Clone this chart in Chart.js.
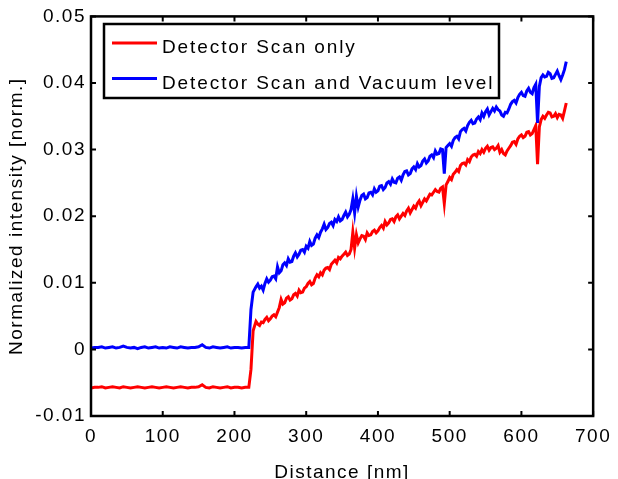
<!DOCTYPE html>
<html>
<head>
<meta charset="utf-8">
<script src="https://cdn.jsdelivr.net/npm/chart.js@4.4.0/dist/chart.umd.min.js"></script>
<style>
html, body { margin: 0; padding: 0; background: #fff; }
</style>
</head>
<body>
<canvas id="myChart" width="618" height="479"></canvas>
<script>
// distance along the scan [nm]
const distances = [
    0, 5, 10, 15, 20, 25, 30, 35, 40, 45,
    50, 55, 60, 65, 70, 75, 80, 85, 90, 95,
    100, 105, 110, 115, 120, 125, 130, 135, 140, 145,
    150, 155, 160, 165, 170, 175, 180, 185, 190, 195,
    200, 205, 210, 215, 220,
    223, 226,
    230, 232.5, 235, 237.5, 240, 242.5, 245, 247.5,
    250, 252.5, 255, 257.5, 260, 262.5, 265, 267.5,
    270, 272.5, 275, 277.5, 280, 282.5, 285, 287.5,
    290, 292.5, 295, 297.5, 300, 302.5, 305, 307.5,
    310, 312.5, 315, 317.5, 320, 322.5, 325, 327.5,
    330, 332.5, 335, 337.5, 340, 342.5, 345, 347.5,
    350, 352.5, 355, 357.5, 360, 362.5, 365, 367.5,
    370, 372.5, 375, 377.5, 380, 382.5, 385, 387.5,
    390, 392.5, 395, 397.5, 400, 402.5, 405, 407.5,
    410, 412.5, 415, 417.5, 420, 422.5, 425, 427.5,
    430, 432.5, 435, 437.5, 440, 442.5, 445, 447.5,
    450, 452.5, 455, 457.5, 460, 462.5, 465, 467.5,
    470, 472.5, 475, 477.5, 480, 482.5, 485, 487.5,
    490, 492.5, 495, 497.5, 500, 502.5, 505, 507.5,
    510, 512.5, 515, 517.5, 520, 522.5, 525, 527.5,
    530, 532.5, 535, 537.5, 540, 542.5, 545, 547.5,
    550, 552.5, 555, 557.5, 560, 562.5, 565, 567.5,
    570, 572.5, 575, 577.5, 580, 582.5, 585, 587.5,
    590, 592.5, 595, 597.5, 600, 602.5, 605, 607.5,
    610, 612.5, 615, 617.5, 620, 622.5, 625, 627.5,
    630, 632.5, 635, 637.5, 640, 642.5, 645, 647.5,
    650, 652.5, 655, 657.5, 660, 662.5
]

const scanOnly = [
    -0.0058, -0.0057, -0.0057, -0.0056, -0.0058, -0.0057, -0.0056, -0.0057, -0.0058, -0.0056,
    -0.0057, -0.0058, -0.0057, -0.0056, -0.0057, -0.0058, -0.0057, -0.0056, -0.0057, -0.0058,
    -0.0057, -0.0056, -0.0057, -0.0058, -0.0057, -0.0056, -0.0057, -0.0058, -0.0057, -0.0057,
    -0.0056, -0.0053, -0.0057, -0.0058, -0.0056, -0.0057, -0.0058, -0.0057, -0.0056, -0.0058,
    -0.0057, -0.0057, -0.0058, -0.0057, -0.0057,
    -0.0030, 0.0028,
    0.0042, 0.0038, 0.0036, 0.0041, 0.0040, 0.0045, 0.0048, 0.0043,
    0.0046, 0.0050, 0.0052, 0.0049, 0.0056, 0.0063, 0.0075, 0.0068,
    0.0070, 0.0077, 0.0079, 0.0074, 0.0076, 0.0082, 0.0084, 0.0080,
    0.0089, 0.0085, 0.0086, 0.0092, 0.0094, 0.0099, 0.0102, 0.0097,
    0.0099, 0.0107, 0.0112, 0.0109, 0.0115, 0.0112, 0.0119, 0.0122,
    0.0123, 0.0120, 0.0128, 0.0131, 0.0134, 0.0130, 0.0138, 0.0136,
    0.0140, 0.0143, 0.0146, 0.0141, 0.0143, 0.0150, 0.0176, 0.0152,
    0.0172, 0.0160, 0.0166, 0.0171, 0.0170, 0.0165, 0.0175, 0.0171,
    0.0172, 0.0177, 0.0179, 0.0175, 0.0178, 0.0183, 0.0186, 0.0182,
    0.0192, 0.0187, 0.0190, 0.0195, 0.0196, 0.0192, 0.0199, 0.0202,
    0.0196, 0.0200, 0.0204, 0.0201, 0.0208, 0.0212, 0.0205, 0.0210,
    0.0215, 0.0212, 0.0219, 0.0223, 0.0216, 0.0221, 0.0226, 0.0223,
    0.0228, 0.0233, 0.0232, 0.0236, 0.0240, 0.0237, 0.0236, 0.0242,
    0.0244, 0.0219, 0.0247, 0.0252, 0.0258, 0.0255, 0.0263, 0.0266,
    0.0270, 0.0267, 0.0276, 0.0279, 0.0280, 0.0277, 0.0285, 0.0282,
    0.0289, 0.0292, 0.0293, 0.0290, 0.0297, 0.0294, 0.0300, 0.0296,
    0.0302, 0.0305, 0.0299, 0.0303, 0.0304, 0.0300, 0.0302, 0.0306,
    0.0296, 0.0300, 0.0294, 0.0292, 0.0298, 0.0302, 0.0306, 0.0311,
    0.0312, 0.0308, 0.0316, 0.0320, 0.0322, 0.0318, 0.0320, 0.0326,
    0.0327, 0.0322, 0.0324, 0.0330, 0.0336, 0.0278, 0.0334, 0.0345,
    0.0350, 0.0347, 0.0352, 0.0356, 0.0355, 0.0349, 0.0350, 0.0354,
    0.0348, 0.0353, 0.0352, 0.0347, 0.0358, 0.0370
]

const scanAndVacuum = [
    0.0002, 0.0003, 0.0003, 0.0004, 0.0002, 0.0003, 0.0004, 0.0002, 0.0003, 0.0005,
    0.0003, 0.0002, 0.0003, 0.0001, 0.0003, 0.0004, 0.0002, 0.0003, 0.0004, 0.0002,
    0.0003, 0.0002, 0.0004, 0.0003, 0.0002, 0.0004, 0.0003, 0.0002, 0.0003, 0.0003,
    0.0004, 0.0007, 0.0003, 0.0002, 0.0004, 0.0003, 0.0002, 0.0003, 0.0004, 0.0002,
    0.0003, 0.0003, 0.0002, 0.0003, 0.0003,
    0.0060, 0.0086,
    0.0094, 0.0098, 0.0092, 0.0095, 0.0089, 0.0099, 0.0106, 0.0101,
    0.0104, 0.0109, 0.0110, 0.0106, 0.0124, 0.0115, 0.0118, 0.0127,
    0.0130, 0.0126, 0.0136, 0.0131, 0.0132, 0.0140, 0.0145, 0.0139,
    0.0143, 0.0149, 0.0150, 0.0146, 0.0155, 0.0152, 0.0162, 0.0156,
    0.0158, 0.0167, 0.0172, 0.0168, 0.0176, 0.0181, 0.0188, 0.0180,
    0.0183, 0.0189, 0.0191, 0.0186, 0.0195, 0.0192, 0.0199, 0.0193,
    0.0195, 0.0201, 0.0206, 0.0199, 0.0203, 0.0210, 0.0226, 0.0205,
    0.0230, 0.0214, 0.0224, 0.0231, 0.0233, 0.0226, 0.0228, 0.0235,
    0.0236, 0.0232, 0.0241, 0.0236, 0.0238, 0.0245, 0.0246, 0.0240,
    0.0243, 0.0250, 0.0252, 0.0248, 0.0256, 0.0251, 0.0250, 0.0257,
    0.0259, 0.0254, 0.0262, 0.0267, 0.0268, 0.0262, 0.0264, 0.0271,
    0.0274, 0.0270, 0.0279, 0.0274, 0.0276, 0.0283, 0.0286, 0.0280,
    0.0283, 0.0290, 0.0292, 0.0288, 0.0298, 0.0293, 0.0294, 0.0301,
    0.0300, 0.0264, 0.0303, 0.0306, 0.0309, 0.0305, 0.0314, 0.0318,
    0.0320, 0.0316, 0.0327, 0.0330, 0.0332, 0.0328, 0.0336, 0.0341,
    0.0344, 0.0339, 0.0340, 0.0346, 0.0349, 0.0345, 0.0355, 0.0350,
    0.0357, 0.0361, 0.0352, 0.0357, 0.0362, 0.0358, 0.0364, 0.0360,
    0.0358, 0.0352, 0.0350, 0.0356, 0.0355, 0.0361, 0.0368, 0.0372,
    0.0374, 0.0370, 0.0378, 0.0383, 0.0386, 0.0381, 0.0380, 0.0388,
    0.0392, 0.0386, 0.0384, 0.0393, 0.0398, 0.0340, 0.0395, 0.0408,
    0.0412, 0.0409, 0.0410, 0.0416, 0.0414, 0.0407, 0.0408, 0.0413,
    0.0418, 0.0411, 0.0405, 0.0412, 0.0420, 0.0432
]

const seriesNames = ['Detector Scan only', 'Detector Scan and Vacuum level']
const xTicks = [0, 100, 200, 300, 400, 500, 600, 700]
const yTicks = [-0.01, 0, 0.01, 0.02, 0.03, 0.04, 0.05]
const yTickLabels = ['-0.01', '0', '0.01', '0.02', '0.03', '0.04', '0.05']

const fontName = '"Liberation Sans", Arial, sans-serif'
const fontSize = 19

//frame with inward ticks + legend box like matlab
const matlabFrame = {
    id: 'matlabFrame',
    beforeDraw: (chart) => {
        chart.ctx.letterSpacing = '1.5px'
    },
    afterDraw: (chart) => {
        const { ctx, chartArea: a, scales } = chart
        ctx.save()
        ctx.strokeStyle = '#000'
        ctx.lineWidth = 2.5
        ctx.strokeRect(a.left, a.top, a.right - a.left, a.bottom - a.top)
        ctx.lineWidth = 2
        const len = 5
        ctx.beginPath()
        scales.x.ticks.forEach((t) => {
            const px = scales.x.getPixelForValue(t.value)
            ctx.moveTo(px, a.bottom); ctx.lineTo(px, a.bottom - len)
            ctx.moveTo(px, a.top); ctx.lineTo(px, a.top + len)
        })
        scales.y.ticks.forEach((t) => {
            const py = scales.y.getPixelForValue(t.value)
            ctx.moveTo(a.left, py); ctx.lineTo(a.left + len, py)
            ctx.moveTo(a.right, py); ctx.lineTo(a.right - len, py)
        })
        ctx.stroke()

        // legend
        const box = { x: 104, y: 24, w: 395, h: 74 }
        ctx.fillStyle = '#fff'
        ctx.fillRect(box.x, box.y, box.w, box.h)
        ctx.lineWidth = 2.5
        ctx.strokeRect(box.x, box.y, box.w, box.h)
        ctx.font = fontSize + 'px ' + fontName
        ctx.textBaseline = 'middle'
        ctx.letterSpacing = '1.9px'
        chart.data.datasets.forEach((ds, i) => {
            const rowY = box.y + 19 + i * 35.5
            ctx.strokeStyle = ds.borderColor
            ctx.lineWidth = 3
            ctx.beginPath()
            ctx.moveTo(box.x + 8, rowY)
            ctx.lineTo(box.x + 53, rowY)
            ctx.stroke()
            ctx.fillStyle = '#000'
            ctx.fillText(ds.label, box.x + 58, rowY + 5)
        })
        ctx.restore()
    }
}

function configGraphAndRender() {
    const grafica = document.querySelector('#myChart')
    const data = {
        datasets: [{
            label: seriesNames[0],
            borderColor: '#ff0000',
            backgroundColor: '#ff0000',
            data: distances.map((d, i) => ({ x: d, y: scanOnly[i] })),
            order: 2
        }, {
            label: seriesNames[1],
            borderColor: '#0000ff',
            backgroundColor: '#0000ff',
            data: distances.map((d, i) => ({ x: d, y: scanAndVacuum[i] })),
            order: 1
        }]
    }
    const config = {
        type: 'line',
        data: data,
        options: {
            responsive: false,
            animation: false,
            layout: { padding: { top: 14, right: 19, left: 0, bottom: 0 } },
            elements: {
                point: { radius: 0 },
                line: { borderWidth: 3, tension: 0 }
            },
            plugins: {
                legend: { display: false },
                tooltip: { enabled: false }
            },
            scales: {
                x: {
                    type: 'linear',
                    min: 0,
                    max: 700,
                    afterBuildTicks: (scale) => { scale.ticks = xTicks.map((v) => ({ value: v })) },
                    afterFit: (scale) => { scale.height = 63 },
                    grid: { display: false, drawTicks: false },
                    border: { display: false },
                    ticks: {
                        color: '#000',
                        padding: 9,
                        maxRotation: 0,
                        font: { family: fontName, size: fontSize },
                        callback: (v) => String(v)
                    },
                    title: {
                        display: true,
                        text: 'Distance [nm]',
                        color: '#000',
                        font: { family: fontName, size: fontSize },
                        padding: { top: 0, bottom: -5 }
                    }
                },
                y: {
                    min: -0.01,
                    max: 0.05,
                    afterBuildTicks: (scale) => { scale.ticks = yTicks.map((v) => ({ value: v })) },
                    afterFit: (scale) => { scale.width = 91 },
                    grid: { display: false, drawTicks: false },
                    border: { display: false },
                    ticks: {
                        color: '#000',
                        padding: 5,
                        font: { family: fontName, size: fontSize },
                        callback: (v, idx) => yTickLabels[idx]
                    },
                    title: {
                        display: true,
                        text: 'Normalized intensity [norm.]',
                        color: '#000',
                        font: { family: fontName, size: fontSize },
                        padding: { top: 5, bottom: 0 }
                    }
                }
            }
        },
        plugins: [matlabFrame]
    }
    const graphicmap = new Chart(grafica, config)
    graphicmap.render()
}

document.addEventListener('DOMContentLoaded', (event) => {
    configGraphAndRender()
})
</script>
</body>
</html>
